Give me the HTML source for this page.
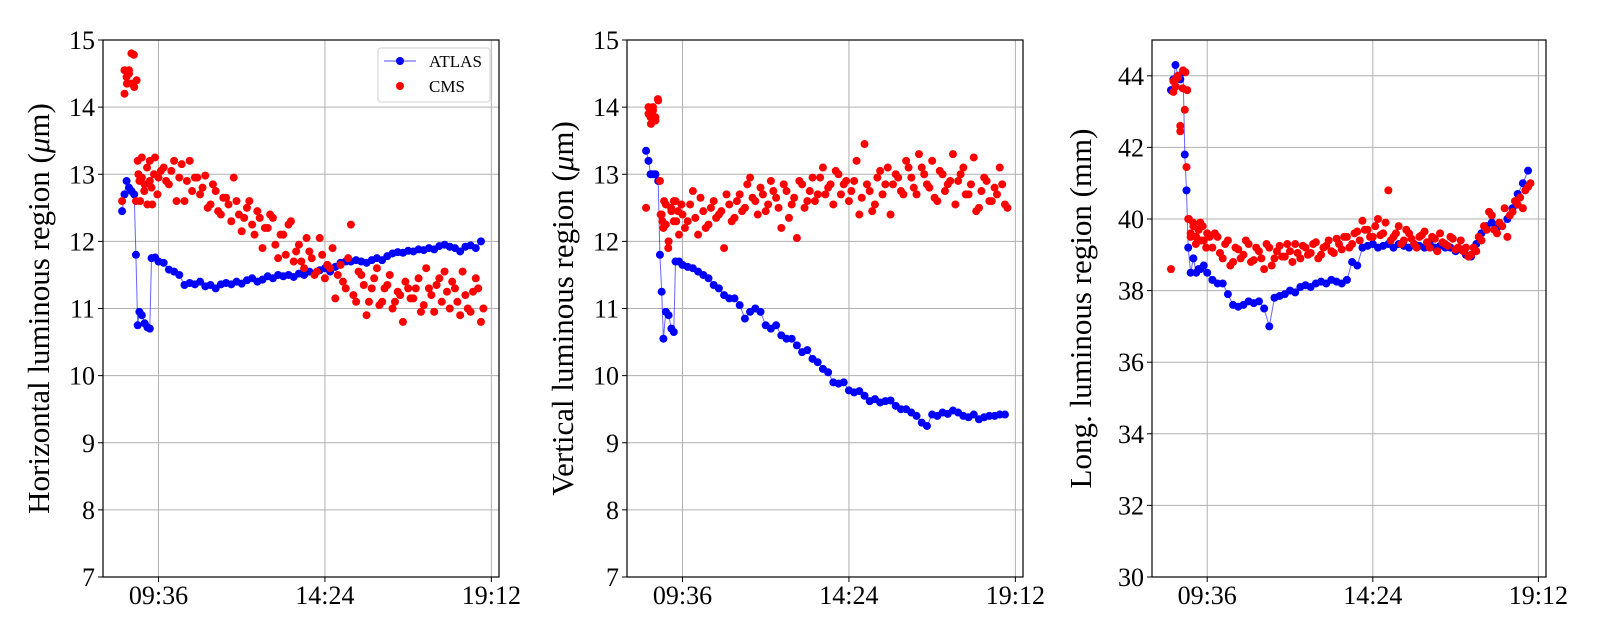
<!DOCTYPE html>
<html><head><meta charset="utf-8"><style>
html,body{margin:0;padding:0;background:#fff;}
svg{display:block;font-family:"Liberation Serif","DejaVu Serif",serif;}
</style></head><body>
<svg id="fig" width="1600" height="640" viewBox="0 0 1600 640" xmlns="http://www.w3.org/2000/svg"></svg>
<script>
const times=[8.55,8.62,8.68,8.75,8.82,8.9,8.95,9.0,9.05,9.12,9.2,9.28,9.35,9.4,9.5,9.6,
9.75,9.9,10.05,10.2,10.35,10.5,10.65,10.8,10.95,11.1,11.25,11.4,11.55,11.7,11.85,12.0,12.15,12.3,12.45,12.6,12.75,12.9,13.05,13.2,13.35,13.5,13.65,13.8,13.95,14.1,14.25,14.4,14.55,14.7,14.85,15.0,15.15,15.3,15.45,15.6,15.75,15.9,16.05,16.2,16.35,16.5,16.65,16.8,16.95,17.1,17.25,17.4,17.55,17.7,17.85,18.0,18.15,18.3,18.45,18.6,18.75,18.9];
const timeOffsetB=0.07;
const xTickHours=[9.6,14.4,19.2];
const xTickLabels=["09:36","14:24","19:12"];
const yTicks1=[7,8,9,10,11,12,13,14,15];
const yTicks3=[30,32,34,36,38,40,42,44];

const atlasH=[12.45,12.7,12.9,12.8,12.75,12.7,11.8,10.75,10.95,10.9,10.78,10.72,10.7,11.75,11.76,11.7,
11.68,11.58,11.55,11.5,11.35,11.38,11.36,11.4,11.33,11.35,11.3,11.36,11.38,11.36,11.4,11.37,11.42,11.45,11.4,11.43,11.48,11.45,11.5,11.48,11.5,11.47,11.52,11.5,11.55,11.52,11.57,11.6,11.55,11.62,11.68,11.7,11.7,11.72,11.7,11.68,11.72,11.75,11.72,11.78,11.82,11.84,11.83,11.86,11.85,11.88,11.87,11.9,11.88,11.93,11.95,11.92,11.9,11.85,11.92,11.94,11.9,12.0];
const cmsHa=[12.6,14.55,14.45,14.5,14.8,14.3,12.6,13.2,12.9,13.25,12.85,12.55,13.2,12.8,13.25,12.95,
13.1,12.85,13.2,12.95,12.6,13.2,12.95,12.7,12.98,12.55,12.75,12.4,12.65,12.3,12.6,12.15,12.5,12.25,12.45,11.9,12.2,12.35,11.75,12.1,12.25,11.7,11.95,11.6,11.85,11.5,12.05,11.45,11.6,11.15,11.65,11.3,12.25,11.1,11.5,10.9,11.3,11.6,11.1,11.35,11.0,11.25,10.8,11.3,11.15,11.45,11.05,11.3,10.95,11.45,11.55,11.0,11.3,10.9,11.2,10.95,11.45,10.8];
const cmsHb=[14.2,14.35,14.55,14.35,14.78,14.4,13.0,12.6,12.95,12.75,13.1,12.9,12.55,13.0,12.7,13.05,
12.9,13.05,12.6,13.15,12.9,12.75,12.95,12.8,12.5,12.85,12.45,12.65,12.55,12.95,12.4,12.35,12.6,12.1,12.35,12.2,12.4,11.95,12.1,11.8,12.3,11.85,11.7,12.05,11.75,11.55,11.8,11.65,11.9,11.5,11.4,11.75,11.2,11.55,11.35,11.1,11.45,11.05,11.3,11.5,11.1,11.2,11.4,11.15,11.3,10.95,11.6,11.2,11.35,11.1,11.25,11.4,11.1,11.55,11.0,11.25,11.3,11.0];

const atlasV=[13.35,13.2,13.0,13.0,13.0,12.9,11.8,11.25,10.55,10.95,10.9,10.7,10.65,11.7,11.7,11.65,
11.62,11.6,11.55,11.5,11.45,11.35,11.3,11.2,11.15,11.15,11.05,10.85,10.95,11.0,10.95,10.75,10.7,10.75,10.6,10.55,10.55,10.45,10.35,10.38,10.25,10.2,10.1,10.05,9.9,9.88,9.9,9.78,9.75,9.77,9.7,9.62,9.65,9.6,9.62,9.63,9.55,9.5,9.5,9.45,9.4,9.3,9.25,9.42,9.4,9.45,9.43,9.48,9.45,9.4,9.38,9.42,9.35,9.38,9.4,9.4,9.42,9.42];
const cmsVa=[12.5,14.0,13.85,13.95,13.8,14.1,12.9,12.4,12.2,12.55,12.0,12.45,12.3,12.6,12.1,12.4,
12.3,12.75,12.1,12.45,12.25,12.6,12.4,11.9,12.55,12.35,12.7,12.5,12.95,12.6,12.8,12.45,12.9,12.65,12.2,12.75,12.55,12.05,12.85,12.6,12.95,12.7,13.1,12.8,12.55,13.0,12.85,12.6,12.9,12.4,13.45,12.75,12.55,13.05,12.85,12.4,13.0,12.75,13.2,12.95,12.7,13.1,12.85,13.2,12.6,13.0,12.85,13.3,12.9,13.1,12.7,13.25,12.5,12.95,12.6,12.8,13.1,12.55];
const cmsVb=[13.9,13.75,14.0,13.85,14.12,12.4,12.3,12.6,12.25,11.9,12.5,12.6,12.3,12.45,12.55,12.2,
12.55,12.35,12.65,12.2,12.5,12.35,12.45,12.7,12.3,12.6,12.45,12.85,12.65,12.4,12.7,12.55,12.75,12.5,12.85,12.35,12.65,12.9,12.5,12.75,12.6,12.95,12.7,12.85,13.05,12.7,12.9,12.75,13.2,12.65,12.85,12.45,12.95,12.7,13.1,12.85,12.95,12.7,13.1,12.8,13.3,13.0,12.8,12.65,13.05,12.75,12.9,12.55,13.0,12.7,12.85,12.45,12.75,12.9,12.6,12.7,12.85,12.5];

const atlasL=[43.6,43.9,44.3,44.0,43.9,44.1,41.8,40.8,39.2,38.5,38.9,38.5,38.6,38.6,38.7,38.5,
38.3,38.2,38.2,37.9,37.6,37.55,37.6,37.7,37.65,37.7,37.5,37.0,37.8,37.85,37.9,38.0,37.95,38.1,38.15,38.1,38.2,38.25,38.2,38.3,38.25,38.2,38.3,38.8,38.7,39.2,39.25,39.3,39.2,39.25,39.3,39.2,39.3,39.25,39.2,39.3,39.25,39.2,39.3,39.2,39.25,39.2,39.2,39.1,39.15,39.0,38.95,39.3,39.6,39.8,39.9,39.75,39.8,40.0,40.3,40.7,41.0,41.35];
const cmsLa=[38.6,43.85,43.9,44.0,42.6,44.15,43.05,41.45,40.0,39.6,39.8,39.5,39.7,39.9,39.4,39.6,
39.2,39.5,38.9,39.4,38.8,39.15,39.0,39.3,38.85,39.1,38.6,39.2,38.9,39.25,38.95,39.1,39.3,38.9,39.2,39.05,39.35,39.0,39.25,39.1,39.45,39.15,39.5,39.3,39.65,39.95,39.7,39.5,40.0,39.6,40.8,39.5,39.8,39.4,39.6,39.3,39.5,39.65,39.2,39.45,39.6,39.3,39.5,39.15,39.4,39.2,39.0,39.1,39.4,39.7,40.1,39.6,39.8,39.5,40.2,40.4,40.3,40.9];
const cmsLb=[43.55,43.7,43.95,42.45,43.65,44.1,43.6,40.0,39.5,39.9,39.3,39.7,39.4,39.8,39.2,39.5,
39.6,39.05,39.3,38.7,39.2,38.9,39.4,38.8,39.2,38.9,39.3,38.7,39.1,38.95,39.3,38.8,39.05,39.25,39.0,39.3,38.9,39.2,39.4,39.05,39.3,39.5,39.2,39.6,39.4,39.7,39.5,39.8,39.55,39.9,39.4,39.6,39.3,39.7,39.45,39.2,39.55,39.35,39.5,39.1,39.35,39.25,39.45,39.2,39.1,38.95,39.2,39.5,39.8,40.2,39.7,39.9,40.3,40.1,40.5,40.6,40.8,41.0];

const NS="http://www.w3.org/2000/svg";
const svg=document.getElementById('fig');
function mk(tag,attrs,parent,text){const e=document.createElementNS(NS,tag);for(const k in attrs)e.setAttribute(k,attrs[k]);if(text!==undefined)e.textContent=text;(parent||svg).appendChild(e);return e;}

const panels=[
 {left:103,right:499,top:40,bottom:577,ymin:7,ymax:15,yticks:yTicks1,label:["Horizontal luminous region (","\u03bc","m)"],labelX:42,atlas:atlasH,ca:cmsHa,cb:cmsHb,legend:true,key:"horizontal"},
 {left:627,right:1023,top:40,bottom:577,ymin:7,ymax:15,yticks:yTicks1,label:["Vertical luminous region (","\u03bc","m)"],labelX:566,atlas:atlasV,ca:cmsVa,cb:cmsVb,legend:false,key:"vertical"},
 {left:1152,right:1546,top:40,bottom:577,ymin:30,ymax:45,yticks:yTicks3,label:["Long. luminous region (mm)"],labelX:1084,atlas:atlasL,ca:cmsLa,cb:cmsLb,legend:false,key:"longitudinal"}
];
const tmin=8.0, tmax=19.42;
const R=4;

panels.forEach(p=>{
 const g=mk('g',{});
 
 
 const xs=t=>p.left+(t-tmin)/(tmax-tmin)*(p.right-p.left);
 const ys=v=>p.bottom-(v-p.ymin)/(p.ymax-p.ymin)*(p.bottom-p.top);
 p.yticks.forEach(v=>{
  const l=mk('line',{x1:p.left,x2:p.right,y1:ys(v),y2:ys(v),stroke:'#b0b0b0','stroke-width':1},g);
  
  
  mk('line',{x1:p.left-5,x2:p.left,y1:ys(v),y2:ys(v),stroke:'#000','stroke-width':1},g);
  const t=mk('text',{x:p.left-8,y:ys(v)+9,'text-anchor':'end','font-size':26,fill:'#000'},g,String(v));
  
  
 });
 xTickHours.forEach((h,i)=>{
  const l=mk('line',{x1:xs(h),x2:xs(h),y1:p.top,y2:p.bottom,stroke:'#b0b0b0','stroke-width':1},g);
  
  
  mk('line',{x1:xs(h),x2:xs(h),y1:p.bottom,y2:p.bottom+5,stroke:'#000','stroke-width':1},g);
  const t=mk('text',{x:xs(h),y:p.bottom+27,'text-anchor':'middle','font-size':26,fill:'#000'},g,xTickLabels[i]);
  
  
 });
 const cy=(p.top+p.bottom)/2;
 const yl=mk('text',{x:p.labelX,y:cy,'text-anchor':'middle','font-size':31,fill:'#000',transform:`rotate(-90 ${p.labelX} ${cy})`,'dominant-baseline':'middle'},g);
 
 
 p.label.forEach((s,i)=>{const ts=mk('tspan',i===1?{'font-style':'italic'}:{},yl,s);});
 const n=Math.min(times.length,p.atlas.length);
 let d='';
 for(let i=0;i<n;i++)d+=(i?'L':'M')+xs(times[i]).toFixed(1)+' '+ys(p.atlas[i]).toFixed(1);
 const path=mk('path',{d:d,fill:'none',stroke:'#0000ff','stroke-width':1,'stroke-opacity':0.6},g);
 
 
 for(let i=0;i<n;i++){
  const c=mk('circle',{cx:xs(times[i]),cy:ys(p.atlas[i]),r:R,fill:'#0000ff'},g);
  
  
 }
 const na=Math.min(times.length,p.ca.length);
 for(let i=0;i<na;i++){
  const c=mk('circle',{cx:xs(times[i]),cy:ys(p.ca[i]),r:R,fill:'#ff0000'},g);
  
  
 }
 const nb=Math.min(times.length,p.cb.length);
 for(let i=0;i<nb;i++){
  const c=mk('circle',{cx:xs(times[i]+timeOffsetB),cy:ys(p.cb[i]),r:R,fill:'#ff0000'},g);
  
  
 }
 const fr=mk('rect',{x:p.left,y:p.top,width:p.right-p.left,height:p.bottom-p.top,fill:'none',stroke:'#000','stroke-width':1.2},g);
 
 
 if(p.legend){
  const lg=mk('g',{},g);
  
  
  mk('rect',{x:378,y:48,width:112,height:54,rx:3,fill:'#fff','fill-opacity':0.85,stroke:'#d0d0d0','stroke-width':1},lg);
  mk('line',{x1:384,x2:416,y1:61,y2:61,stroke:'#0000ff','stroke-width':1,'stroke-opacity':0.7},lg);
  mk('circle',{cx:400,cy:61,r:R,fill:'#0000ff'},lg);
  const t1=mk('text',{x:429,y:67,'font-size':17,fill:'#000'},lg,'ATLAS');
  
  
  mk('circle',{cx:400,cy:86,r:R,fill:'#ff0000'},lg);
  const t2=mk('text',{x:429,y:92,'font-size':17,fill:'#000'},lg,'CMS');
  
  
 }
});
</script>
</body></html>
